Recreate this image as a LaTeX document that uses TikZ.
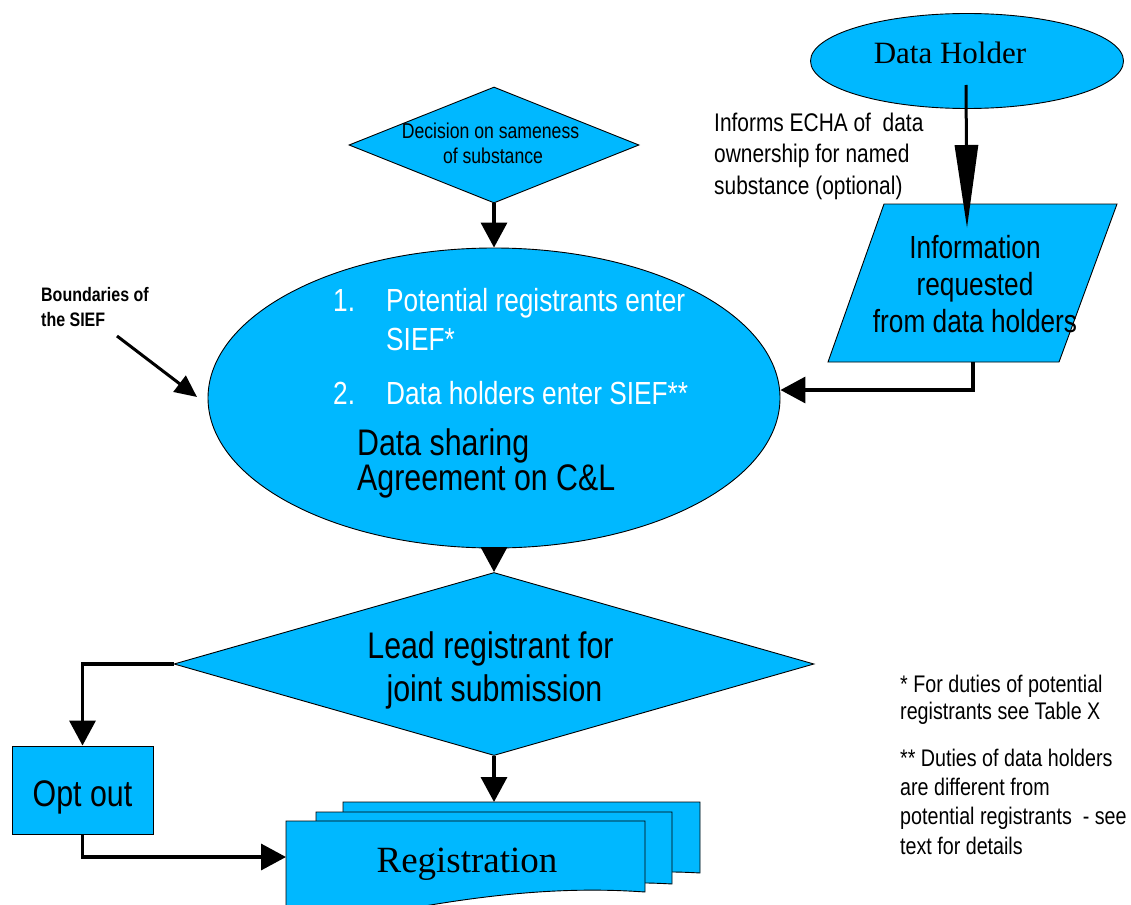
\documentclass[tikz,border=0pt]{standalone}
\usepackage{fontspec}
\setmainfont{Liberation Serif}
\newfontfamily\nar[FakeStretch=0.82]{Liberation Sans}
\usetikzlibrary{shapes.geometric,arrows.meta,calc}
\definecolor{cy}{RGB}{0,184,255}
\begin{document}
\begin{tikzpicture}[x=1pt,y=-1pt,
  shp/.style={draw=black,line width=0.9pt,fill=cy},
  conn/.style={line width=3.5pt,-{Triangle[length=25pt,width=26pt]}},
  longarr/.style={line width=3pt,-{Triangle[length=83pt,width=23pt]}},
  thinarr/.style={line width=3pt,-{Triangle[length=22pt,width=20pt]}},
  lw/.style={anchor=base west,inner sep=0},
  lc/.style={anchor=base,inner sep=0},
  f32/.style={font=\nar\fontsize{32}{37}\selectfont},
  f37/.style={font=\nar\fontsize{37}{43}\selectfont},
  f24/.style={font=\nar\fontsize{24}{29}\selectfont},
  f25/.style={font=\nar\fontsize{25.5}{30}\selectfont},
  f21/.style={font=\nar\fontsize{21.5}{25}\selectfont},
  fb/.style={font=\nar\bfseries\fontsize{19.5}{25}\selectfont},
]
\useasboundingbox (0,0) rectangle (1131,904);
\fill[white] (0,0) rectangle (1131,904);

% Data holder
\node[shp,ellipse,minimum width=313pt,minimum height=95pt,inner sep=0] (dh) at (967,61) {};
\node[lc,font=\fontsize{31}{36}\selectfont] (dht) at (950,64) {Data Holder};

% information requested (parallelogram)
\draw[shp] (884,204) -- (1117,204) -- (1059,362) -- (828,362) -- cycle;
\coordinate (infoT) at (967,228);
\coordinate (infoB) at (973,362);
\node[lc,f32] (inf1) at (975,258) {Information};
\node[lc,f32] (inf2) at (975,295) {requested};
\node[lc,f32] (inf3) at (975,332) {from data holders};

\draw[longarr] ($(dh.center)+(-1,24)$) -- (infoT);

\node[lw,f25] (ech1) at (714,132) {Informs ECHA of \ data};
\node[lw,f25] (ech2) at (714,163) {ownership for named};
\node[lw,f25] (ech3) at (714,194) {substance (optional)};

% decision diamond
\node[shp,diamond,minimum width=290pt,minimum height=116pt,inner sep=0] (dec) at (494,145) {};
\node[lc,f21] (dec1) at (490.5,139) {Decision on sameness};
\node[lc,f21] (dec2) at (493,164) {of substance};

% SIEF ellipse
\node[shp,ellipse,minimum width=572pt,minimum height=300pt,inner sep=0] (sief) at (494,398) {};
\node[lw,f32,text=white] (n1) at (333,311) {1.};
\node[lw,f32,text=white] (s1a) at (386,311) {Potential registrants enter};
\node[lw,f32,text=white] (s1b) at (386,350) {SIEF*};
\node[lw,f32,text=white] (n2) at (333,404) {2.};
\node[lw,f32,text=white] (s2) at (386,404) {Data holders enter SIEF**};
\node[lw,f37] (ds1) at (357,455) {Data sharing};
\node[lw,f37] (ds2) at (357,490) {Agreement on C\&L};

\draw[conn] (dec.south) -- (sief.north);
\draw[conn] (infoB) |- ($(sief.east)+(0,-8)$);

% boundaries label
\node[lw,fb] (b1) at (41,301) {Boundaries of};
\node[lw,fb] (b2) at (41,326) {the SIEF};
\coordinate (bndS) at (117,336);
\coordinate (bndE) at (197,397);
\draw[thinarr] (bndS) -- (bndE);

% lead registrant diamond
\node[shp,diamond,minimum width=640pt,minimum height=183pt,inner sep=0] (lead) at (494,664) {};
\node[lc,f37] (ld1) at (490.5,658) {Lead registrant for};
\node[lc,f37] (ld2) at (494.5,701) {joint submission};
\draw[conn] (sief.south) -- (lead.north);

% opt out
\node[shp,rectangle,minimum width=141pt,minimum height=88pt,inner sep=0] (opt) at (82.5,790) {};
\node[lc,f37] (optt) at (82.5,806) {Opt out};
\draw[conn] (lead.west) -| (opt.north);

% registration (multi document)
\draw[shp] (343,802) -- (700,802) -- (700,873) .. controls (620,868) and (500,880) .. (343,915) -- cycle;
\draw[shp] (316,812) -- (672,812) -- (672,884) .. controls (590,879) and (480,890) .. (316,925) -- cycle;
\draw[shp] (286,821) -- (645,821) -- (645,892) .. controls (560,886) and (460,893) .. (286,935) -- cycle;
\node[lc,font=\fontsize{37}{43}\selectfont] (regt) at (467,872) {Registration};
\coordinate (regT) at (494,802);
\coordinate (regL) at (286,857);
\draw[conn] (lead.south) -- (regT);
\draw[conn] (opt.south) |- (regL);

% footnotes
\node[lw,f24] (fn1) at (900,692) {* For duties of potential};
\node[lw,f24] (fn2) at (900,719) {registrants see Table X};
\node[lw,f24] (fn3) at (900,766) {** Duties of data holders};
\node[lw,f24] (fn4) at (900,795) {are different from};
\node[lw,f24] (fn5) at (900,824) {potential registrants \ - see};
\node[lw,f24] (fn6) at (900,854) {text for details};
\end{tikzpicture}
\end{document}
